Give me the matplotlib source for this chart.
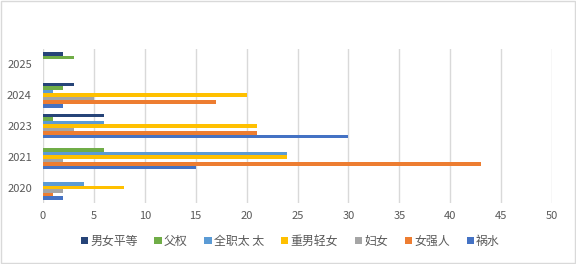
import matplotlib.pyplot as plt
import matplotlib.patches as patches
import numpy as np

plt.rcParams['font.family'] = ['Noto Sans CJK SC', 'DejaVu Sans']

years = ['2020', '2021', '2023', '2024', '2025']
series = ['男女平等', '父权', '全职太 太', '重男轻女', '妇女', '女强人', '祸水']
colors = ['#264478', '#70AD47', '#5B9BD5', '#FFC000', '#A5A5A5', '#ED7D31', '#4472C4']

nannv_pingdeng = [0, 0, 6, 3, 2]
fuquan = [0, 6, 1, 2, 3]
quanzhi_taitai = [4, 24, 6, 1, 0]
zhongnan_qingnv = [8, 24, 21, 20, 0]
funv = [2, 2, 3, 5, 0]
nvqiangren = [1, 43, 21, 17, 0]
huoshui = [2, 15, 30, 2, 0]
values = [nannv_pingdeng, fuquan, quanzhi_taitai, zhongnan_qingnv, funv, nvqiangren, huoshui]

fig = plt.figure(figsize=(5.76, 2.64), dpi=100)
ax = fig.add_axes([43/576, 1-203/264, 509/576, 154/264])

n = len(series)
h = 0.8/n
y = np.arange(len(years))
for k in range(n):
	# first series on top of each group
	off = 0.4 - h/2 - k*h
	ax.barh(y + off, values[k], height=h, color=colors[k], label=series[k], zorder=3)

ax.set_xlim(0, 50)
ax.set_ylim(-0.5, len(years)-0.5)
ax.set_xticks(np.arange(0, 51, 5))
ax.set_yticks(y)
ax.set_yticklabels(years)
ax.tick_params(length=0, labelsize=8, labelcolor='#595959')
ax.tick_params(axis='y', pad=8)
ax.tick_params(axis='x', pad=6)
ax.grid(axis='x', color='#D9D9D9', lw=1, zorder=0)
for s in ax.spines.values():
	s.set_visible(False)

leg = fig.legend(loc='center', bbox_to_anchor=(0.504, 0.087), ncol=7, frameon=False,
	fontsize=8.6, handlelength=0.6, handleheight=0.6, handletextpad=0.2, columnspacing=1.4)
for t in leg.get_texts():
	t.set_color('#595959')

fig.patches.append(patches.Rectangle((0.001, 0.004), 0.997, 0.994, transform=fig.transFigure,
	fill=False, edgecolor='#D9D9D9', lw=1))
plt.savefig('out.png')
